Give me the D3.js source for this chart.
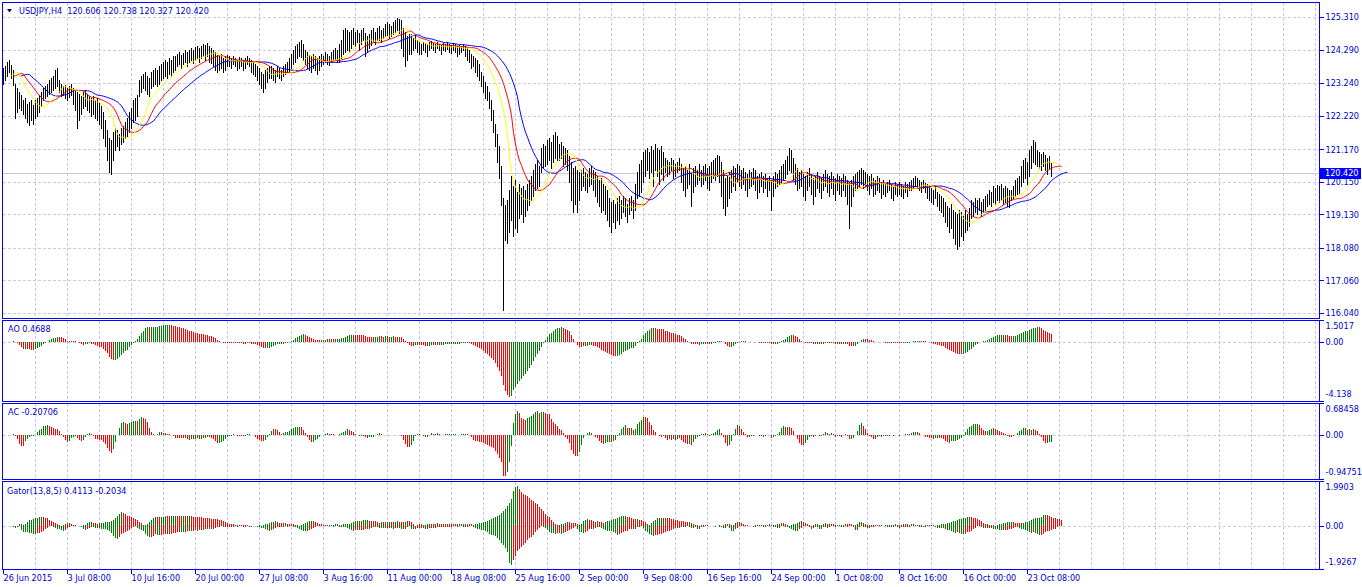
<!DOCTYPE html>
<html><head><meta charset="utf-8">
<script src="https://cdn.jsdelivr.net/npm/d3@7"></script>
<style>
html,body{margin:0;padding:0;background:#fff;overflow:hidden}
svg{display:block;font-family:"DejaVu Sans Condensed","DejaVu Sans",sans-serif;font-size:9px}
text{white-space:pre}
</style>
</head><body>
<svg id="c" width="1362" height="587"></svg>
<script>
// ---------------- DATA (USDJPY H4) ----------------
const high = [
123.71,123.77,123.90,123.96,123.81,123.65,123.21,123.09,122.96,122.87,
122.71,122.77,122.58,122.65,122.71,122.55,122.71,122.77,122.87,122.96,
123.09,123.15,123.21,123.34,123.40,123.46,123.65,123.71,123.34,123.21,
123.15,123.18,123.09,123.15,123.21,123.09,123.02,122.96,122.90,122.83,
122.96,123.02,122.90,122.83,122.77,122.83,122.71,122.77,122.65,122.52,
122.35,122.08,121.77,121.52,121.46,121.71,121.83,121.77,121.65,121.83,
121.89,122.02,122.15,122.35,122.46,122.71,122.77,122.87,123.34,123.46,
123.52,123.59,123.46,123.40,123.59,123.65,123.71,123.65,123.77,123.84,
123.90,123.96,123.90,124.03,123.96,124.09,124.09,124.15,124.21,124.12,
124.18,124.28,124.21,124.28,124.34,124.28,124.37,124.40,124.34,124.40,
124.46,124.43,124.50,124.40,124.34,124.28,124.21,124.12,124.09,124.15,
124.03,124.09,124.12,124.09,124.03,124.09,124.03,123.96,124.06,124.03,
123.96,124.03,124.09,124.03,123.96,123.90,123.84,123.77,123.71,123.59,
123.52,123.65,123.71,123.77,123.77,123.71,123.65,123.77,123.71,123.65,
123.77,123.84,123.90,124.03,124.15,124.28,124.40,124.46,124.53,124.59,
124.46,124.28,124.21,124.12,124.09,124.15,124.09,124.03,124.09,124.15,
124.09,124.21,124.15,124.09,124.21,124.28,124.34,124.28,124.46,124.59,
124.90,124.96,124.90,124.84,124.90,124.96,124.84,124.90,124.81,124.90,
124.96,124.81,124.71,124.78,124.90,124.96,124.84,124.96,125.03,124.90,
124.96,125.09,125.15,125.09,125.03,125.15,125.22,125.28,125.25,125.22,
124.96,124.84,124.71,124.78,124.78,124.65,124.75,124.59,124.53,124.46,
124.53,124.50,124.46,124.53,124.56,124.50,124.46,124.53,124.46,124.43,
124.50,124.46,124.53,124.46,124.43,124.50,124.46,124.40,124.43,124.40,
124.46,124.40,124.34,124.28,124.15,124.09,124.03,123.96,123.84,123.59,
123.46,123.27,123.15,122.96,122.71,122.40,121.96,121.65,121.27,120.64,
119.64,119.42,119.58,119.89,120.33,120.02,120.20,119.83,120.08,119.95,
120.02,119.89,120.08,120.20,120.33,120.52,120.71,120.83,120.64,121.21,
121.33,121.27,121.46,121.52,121.39,121.61,121.71,121.58,121.33,121.39,
121.27,121.21,121.14,120.96,120.77,120.58,120.64,120.52,120.45,120.52,
120.58,120.45,120.39,120.58,120.64,120.52,120.45,120.33,120.20,120.27,
120.08,120.02,119.89,119.64,119.51,119.58,119.45,119.64,119.70,119.58,
119.70,119.64,119.45,119.64,119.70,119.58,120.08,120.45,120.71,120.83,
121.08,121.14,121.21,121.08,121.27,121.14,121.33,121.21,121.14,121.27,
121.08,120.89,120.83,120.77,120.89,120.83,120.71,120.77,120.89,120.71,
120.58,120.64,120.52,120.71,120.45,120.58,120.64,120.52,120.71,120.52,
120.64,120.71,120.58,120.64,120.77,120.83,120.89,120.99,120.96,120.77,
120.52,120.27,120.33,120.45,120.52,120.64,120.58,120.71,120.64,120.52,
120.58,120.45,120.39,120.52,120.45,120.58,120.52,120.33,120.39,120.45,
120.33,120.39,120.27,120.33,120.20,120.33,120.45,120.39,120.52,120.64,
120.71,120.83,120.96,121.21,121.14,120.89,120.71,120.58,120.45,120.52,
120.39,120.33,120.45,120.58,120.39,120.27,120.33,120.45,120.33,120.27,
120.39,120.52,120.39,120.33,120.45,120.33,120.27,120.39,120.33,120.27,
120.39,120.33,120.20,120.14,120.20,120.33,120.39,120.45,120.52,120.58,
120.52,120.45,120.39,120.33,120.39,120.27,120.20,120.33,120.27,120.14,
120.20,120.08,120.14,120.20,120.08,120.02,120.14,120.08,120.14,120.08,
120.02,120.14,120.08,120.14,120.20,120.27,120.33,120.27,120.20,120.14,
120.20,120.11,120.08,120.02,119.95,119.89,120.02,119.83,119.77,119.70,
119.64,119.51,119.39,119.33,119.45,119.27,119.20,119.14,119.27,119.20,
119.08,119.27,119.14,119.33,119.58,119.51,119.64,119.58,119.64,119.51,
119.61,119.70,119.77,119.89,119.83,120.02,119.95,120.05,120.02,120.08,
119.95,120.02,119.95,119.89,119.89,120.02,120.20,120.27,120.33,120.64,
120.83,120.89,120.77,121.14,121.27,121.46,121.39,121.14,121.08,121.02,
121.08,120.99,120.89,120.96,120.738
];
const low = [
123.21,123.34,123.46,123.59,123.40,123.18,122.15,122.35,122.46,122.40,
122.27,122.15,122.02,121.93,122.08,121.96,122.15,122.21,122.35,122.52,
122.71,122.77,122.83,122.90,122.96,123.02,123.09,123.15,122.96,122.83,
122.87,122.77,122.71,122.80,122.87,122.58,122.40,121.83,122.08,122.27,
122.46,122.52,122.40,122.35,122.21,122.27,122.15,122.08,121.96,121.83,
121.52,121.27,120.83,120.45,120.39,120.83,121.14,121.27,121.14,121.33,
121.39,121.52,121.58,121.71,121.83,122.02,122.08,122.21,122.83,122.96,
123.09,123.02,122.90,122.83,123.09,123.15,123.21,123.15,123.21,123.34,
123.40,123.46,123.40,123.52,123.46,123.59,123.65,123.77,123.84,123.71,
123.84,123.90,123.77,123.90,123.96,123.87,123.96,124.03,123.90,124.03,
124.09,123.96,124.09,123.90,123.87,123.77,123.65,123.59,123.65,123.71,
123.59,123.65,123.77,123.77,123.71,123.84,123.77,123.65,123.71,123.77,
123.65,123.71,123.84,123.77,123.59,123.52,123.46,123.34,123.21,123.09,
122.96,123.09,123.27,123.40,123.40,123.34,123.27,123.46,123.40,123.34,
123.46,123.52,123.59,123.59,123.71,123.84,123.90,124.03,124.09,124.06,
123.96,123.84,123.71,123.65,123.59,123.71,123.65,123.52,123.65,123.77,
123.84,123.90,123.84,123.81,123.90,123.96,123.96,123.90,123.90,124.03,
124.15,124.21,124.28,124.21,124.34,124.46,124.40,124.53,124.28,124.46,
124.59,124.09,124.21,124.34,124.43,124.53,124.46,124.59,124.59,124.53,
124.65,124.71,124.75,124.65,124.71,124.78,124.84,124.90,124.81,124.34,
124.09,123.77,123.96,124.15,124.15,124.28,124.34,124.21,124.15,124.15,
124.28,124.21,124.09,124.28,124.34,124.28,124.21,124.34,124.28,124.15,
124.28,124.25,124.31,124.21,124.18,124.28,124.21,124.09,124.15,124.21,
124.28,124.09,123.96,123.90,123.71,123.77,123.59,123.46,123.34,123.15,
122.96,122.77,122.71,122.46,122.08,121.71,121.27,120.77,120.27,119.42,
116.13,118.33,118.23,118.57,118.95,118.45,118.70,118.57,119.01,119.14,
118.89,119.08,119.27,119.42,119.58,119.70,119.89,119.95,120.02,120.45,
120.58,120.64,120.71,120.83,120.58,120.77,120.89,120.83,120.83,120.89,
120.64,120.71,120.52,120.14,119.58,119.20,119.45,119.20,119.58,119.89,
120.02,119.89,119.83,120.02,120.08,119.89,119.70,119.51,119.39,119.20,
119.27,119.14,118.95,118.76,118.57,118.89,118.70,118.95,118.83,119.01,
119.20,119.08,118.89,119.14,119.27,119.01,119.27,119.64,119.70,119.83,
120.14,120.33,120.52,120.27,120.45,120.02,120.52,120.33,120.08,120.39,
120.20,120.45,120.33,120.39,120.52,120.27,120.33,120.45,120.52,120.14,
119.89,119.70,119.95,120.08,119.39,119.83,120.02,120.08,120.20,120.02,
120.08,120.20,119.95,119.89,120.14,120.27,120.20,120.33,120.14,119.70,
119.33,119.11,119.39,119.64,119.83,120.02,119.89,120.14,120.02,119.95,
120.08,119.89,119.70,119.95,120.02,120.08,119.89,119.64,119.83,120.02,
119.83,119.95,119.70,119.89,119.27,119.70,119.95,120.02,120.08,120.14,
120.20,120.27,120.39,120.52,120.45,120.20,120.08,119.89,119.95,120.02,
119.70,119.58,119.89,120.02,119.77,119.45,119.70,119.95,119.83,119.64,
119.89,120.02,119.83,119.70,119.95,119.77,119.58,119.89,119.77,119.70,
119.89,119.70,119.45,118.70,119.39,119.70,119.89,119.95,120.02,120.08,
119.95,120.02,119.89,119.77,119.95,119.70,119.77,119.89,119.83,119.64,
119.77,119.70,119.83,119.89,119.64,119.58,119.77,119.70,119.77,119.70,
119.64,119.83,119.70,119.89,119.89,119.95,120.02,119.95,119.89,119.83,
119.95,119.83,119.64,119.58,119.51,119.45,119.64,119.39,119.27,119.20,
119.08,118.89,118.76,118.57,118.70,118.39,118.20,118.04,118.14,118.45,
118.33,118.57,118.63,118.76,119.01,119.08,119.20,119.14,119.27,119.08,
119.20,119.27,119.39,119.45,119.39,119.51,119.45,119.58,119.51,119.58,
119.45,119.51,119.39,119.36,119.58,119.64,119.70,119.77,119.80,120.02,
120.14,120.27,120.08,120.33,120.58,120.77,120.71,120.64,120.58,120.52,
120.64,120.52,120.39,120.58,120.327
];
const priceTicks = [125.310,124.290,123.240,122.220,121.170,120.150,119.130,118.080,117.060,116.040];
const lastPrice = 120.420;
const aoTicks = [1.5017, 0.00, -4.138];
const aoTickLabels = ["1.5017","0.00","-4.138"];
const acTicks = [0.68458, 0.00, -0.94751];
const acTickLabels = ["0.68458","0.00","-0.94751"];
const gatorTicks = [1.9903, 0.00, -1.9267];
const gatorTickLabels = ["1.9903","0.00","-1.9267"];
const timeLabels = ["26 Jun 2015","3 Jul 08:00","10 Jul 16:00","20 Jul 00:00","27 Jul 08:00","3 Aug 16:00","11 Aug 00:00","18 Aug 08:00","25 Aug 16:00","2 Sep 00:00","9 Sep 08:00","16 Sep 16:00","24 Sep 00:00","1 Oct 08:00","8 Oct 16:00","16 Oct 00:00","23 Oct 08:00"];
const timeLabelBars = [0,32,64,96,128,160,192,224,256,288,320,352,384,416,448,480,512];
const titleMain = "USDJPY,H4  120.606 120.738 120.327 120.420";
const titleAO = "AO 0.4688";
const titleAC = "AC -0.20706";
const titleGator = "Gator(13,8,5) 0.4113 -0.2034";

// ---------------- indicators derived from the price data ----------------
const N = high.length;
const med = high.map((h,i)=>(h+low[i])/2);
function smma(src,n){const out=[];let s=src[0];for(let i=0;i<src.length;i++){s=i===0?src[0]:(s*(n-1)+src[i])/n;out.push(s);}return out;}
function sma(src,n){return src.map((_,i)=>{const a=Math.max(0,i-n+1);let s=0;for(let j=a;j<=i;j++)s+=src[j];return s/(i-a+1);});}
const jawRaw=smma(med,13), teethRaw=smma(med,8), lipsRaw=smma(med,5);
const jaw=jawRaw.map((v,j)=>({i:j+8,v})), teeth=teethRaw.map((v,j)=>({i:j+5,v})), lips=lipsRaw.map((v,j)=>({i:j+3,v}));
const sma5=sma(med,5), sma34=sma(med,34);
const ao=med.map((_,i)=>sma5[i]-sma34[i]);
const aoS=sma(ao,5);
const ac=ao.map((v,i)=>v-aoS[i]);
function colorize(arr){return arr.map((v,i)=>({i,v,c:(i===0||v>arr[i-1])?"#008000":"#ff0000"}));}
const aoBars=colorize(ao), acBars=colorize(ac);
const gUp=[], gDn=[];
for(let k=0;k<N+8;k++){
  const jw=jawRaw[k-8], th=teethRaw[k-5], lp=lipsRaw[k-3];
  if(jw!==undefined&&th!==undefined) gUp.push({i:k,a:Math.abs(jw-th)});
  if(th!==undefined&&lp!==undefined) gDn.push({i:k,a:Math.abs(th-lp)});
}
gUp.forEach((d,j)=>{d.v=d.a;d.c=(j===0||d.a>=gUp[j-1].a)?"#008000":"#ff0000";});
gDn.forEach((d,j)=>{d.v=-d.a;d.c=(j===0||d.a>=gDn[j-1].a)?"#008000":"#ff0000";});

// ---------------- layout ----------------
const svg=d3.select("#c");
const L=2,R=1319;
const GRID="#c8c8f0", BORDER="#0000ff", TXT="#0000cc";
const panels={main:{top:2,bottom:318},ao:{top:320,bottom:401},ac:{top:403,bottom:479},gator:{top:481,bottom:569}};
const x=d3.scaleLinear().domain([timeLabelBars[0],timeLabelBars[timeLabelBars.length-1]]).range([3,1027]);
const px=i=>Math.round(x(i))+0.5;
const defs=svg.append("defs");
Object.entries(panels).forEach(([k,p])=>{
  defs.append("clipPath").attr("id","clip-"+k).append("rect").attr("x",L+1).attr("y",p.top+1).attr("width",R-L-1).attr("height",p.bottom-p.top-1);
});
const yMain=d3.scaleLinear().domain([d3.min(priceTicks),d3.max(priceTicks)]).range([313,17]);
const yAO=d3.scaleLinear().domain([d3.min(aoTicks),d3.max(aoTicks)]).range([panels.ao.bottom,panels.ao.top]);
const yAC=d3.scaleLinear().domain([d3.min(acTicks),d3.max(acTicks)]).range([panels.ac.bottom,panels.ac.top]);
const yG=d3.scaleLinear().domain([d3.min(gatorTicks),d3.max(gatorTicks)]).range([panels.gator.bottom,panels.gator.top]);

// vertical grid positions (every 16 bars)
const gridBars=d3.range(16,1000,16).filter(i=>x(i)<R-2);
function vgrid(p){
  const g=svg.append("g").attr("shape-rendering","crispEdges");
  g.selectAll("line").data(gridBars).join("line")
   .attr("x1",d=>px(d)).attr("x2",d=>px(d)).attr("y1",p.top+1).attr("y2",p.bottom)
   .attr("stroke",GRID).attr("stroke-dasharray","3,2");
}
function hgrid(p,ys){
  const g=svg.append("g").attr("shape-rendering","crispEdges");
  g.selectAll("line").data(ys).join("line")
   .attr("x1",L+1).attr("x2",R).attr("y1",d=>Math.round(d)+0.5).attr("y2",d=>Math.round(d)+0.5)
   .attr("stroke",GRID).attr("stroke-dasharray","3,2");
}
Object.values(panels).forEach(vgrid);
hgrid(panels.main,priceTicks.map(yMain));
hgrid(panels.ao,[yAO(0)]);
hgrid(panels.ac,[yAC(0)]);
hgrid(panels.gator,[yG(0)]);

// current price line
svg.append("line").attr("shape-rendering","crispEdges")
 .attr("x1",L+1).attr("x2",R).attr("y1",Math.round(yMain(lastPrice))+0.5).attr("y2",Math.round(yMain(lastPrice))+0.5)
 .attr("stroke","#c8c8e4");

// price bars
const gMain=svg.append("g").attr("clip-path","url(#clip-main)");
gMain.append("g").attr("shape-rendering","crispEdges").selectAll("line").data(high.map((h,i)=>({i,h,l:low[i]}))).join("line")
 .attr("x1",d=>px(d.i)).attr("x2",d=>px(d.i))
 .attr("y1",d=>Math.round(yMain(d.h))).attr("y2",d=>Math.round(yMain(d.l))+1)
 .attr("stroke","#000").attr("stroke-width",1);

// alligator lines
const lineGen=d3.line().x(d=>px(d.i)).y(d=>yMain(d.v));
[[jaw,"#0000ff"],[teeth,"#ff0000"],[lips,"#ffff00"]].forEach(([data,col])=>{
  gMain.append("path").datum(data).attr("d",lineGen).attr("fill","none").attr("stroke",col).attr("stroke-width",1);
});

// histograms
function hist(key,data,ys){
  const g=svg.append("g").attr("clip-path","url(#clip-"+key+")").attr("shape-rendering","crispEdges");
  const z=Math.round(ys(0));
  g.selectAll("line").data(data).join("line")
   .attr("x1",d=>px(d.i)).attr("x2",d=>px(d.i))
   .attr("y1",z).attr("y2",d=>Math.round(ys(d.v)))
   .attr("stroke",d=>d.c).attr("stroke-width",1);
}
hist("ao",aoBars,yAO);
hist("ac",acBars,yAC);
hist("gator",gUp,yG);
hist("gator",gDn,yG);

// panel borders
Object.values(panels).forEach(p=>{
  svg.append("rect").attr("shape-rendering","crispEdges").attr("x",L+0.5).attr("y",p.top+0.5)
   .attr("width",R-L).attr("height",p.bottom-p.top).attr("fill","none").attr("stroke",BORDER);
});

// right axes
function rightAxis(p,scale,ticks,labels,fmt,inset){
  const ax=d3.axisRight(scale).tickValues(ticks).tickSize(4).tickPadding(2)
    .tickFormat(labels?((d,k)=>labels[k]):fmt);
  const g=svg.append("g").attr("transform","translate("+(R+0.5)+",0)").call(ax);
  g.select(".domain").remove();
  g.selectAll(".tick line").attr("stroke",BORDER).attr("shape-rendering","crispEdges");
  g.selectAll(".tick text").attr("fill",TXT).style("font-size","9px")
   .attr("font-family",'"DejaVu Sans Condensed","DejaVu Sans",sans-serif');
  if(inset){
    g.selectAll(".tick text").attr("dy",function(d){
      const y=scale(d); if(y-p.top<5) return "0.95em"; if(p.bottom-y<5) return "-0.45em"; return "0.32em";});
  }
  return g;
}
rightAxis(panels.main,yMain,priceTicks,null,d3.format(".3f"),false);
rightAxis(panels.ao,yAO,aoTicks,aoTickLabels,null,true);
rightAxis(panels.ac,yAC,acTicks,acTickLabels,null,true);
rightAxis(panels.gator,yG,gatorTicks,gatorTickLabels,null,true);

// current price tag
const yl=Math.round(yMain(lastPrice));
svg.append("rect").attr("x",R+1).attr("y",yl-5).attr("width",41).attr("height",11).attr("fill","#0000ff");
svg.append("text").attr("x",R+6).attr("y",yl).attr("dy","0.35em").attr("fill","#fff").text(d3.format(".3f")(lastPrice));

// bottom time axis
const bx=d3.axisBottom(x).tickValues(timeLabelBars).tickSize(4).tickPadding(1).tickFormat((d,k)=>timeLabels[k]);
const gb=svg.append("g").attr("transform","translate(0,"+(panels.gator.bottom+0.5)+")").call(bx);
gb.select(".domain").remove();
gb.selectAll(".tick").attr("transform",d=>"translate("+px(d)+",0)");
gb.selectAll(".tick line").attr("stroke",BORDER).attr("shape-rendering","crispEdges");
gb.selectAll(".tick text").attr("fill",TXT).attr("text-anchor","start").attr("dx","0")
  .style("font-size","9px").attr("font-family",'"DejaVu Sans Condensed","DejaVu Sans",sans-serif');

// titles
svg.append("path").attr("d","M7,9 L12,9 L9.5,12.5 Z").attr("fill","#000080");
svg.append("text").attr("x",19).attr("y",11).attr("dy","0.35em").attr("fill",TXT).attr("xml:space","preserve").text(titleMain);
svg.append("text").attr("x",8).attr("y",329).attr("dy","0.35em").attr("fill",TXT).text(titleAO);
svg.append("text").attr("x",8).attr("y",412).attr("dy","0.35em").attr("fill",TXT).text(titleAC);
svg.append("text").attr("x",7).attr("y",491).attr("dy","0.35em").attr("fill",TXT).text(titleGator);
</script>
</body></html>
